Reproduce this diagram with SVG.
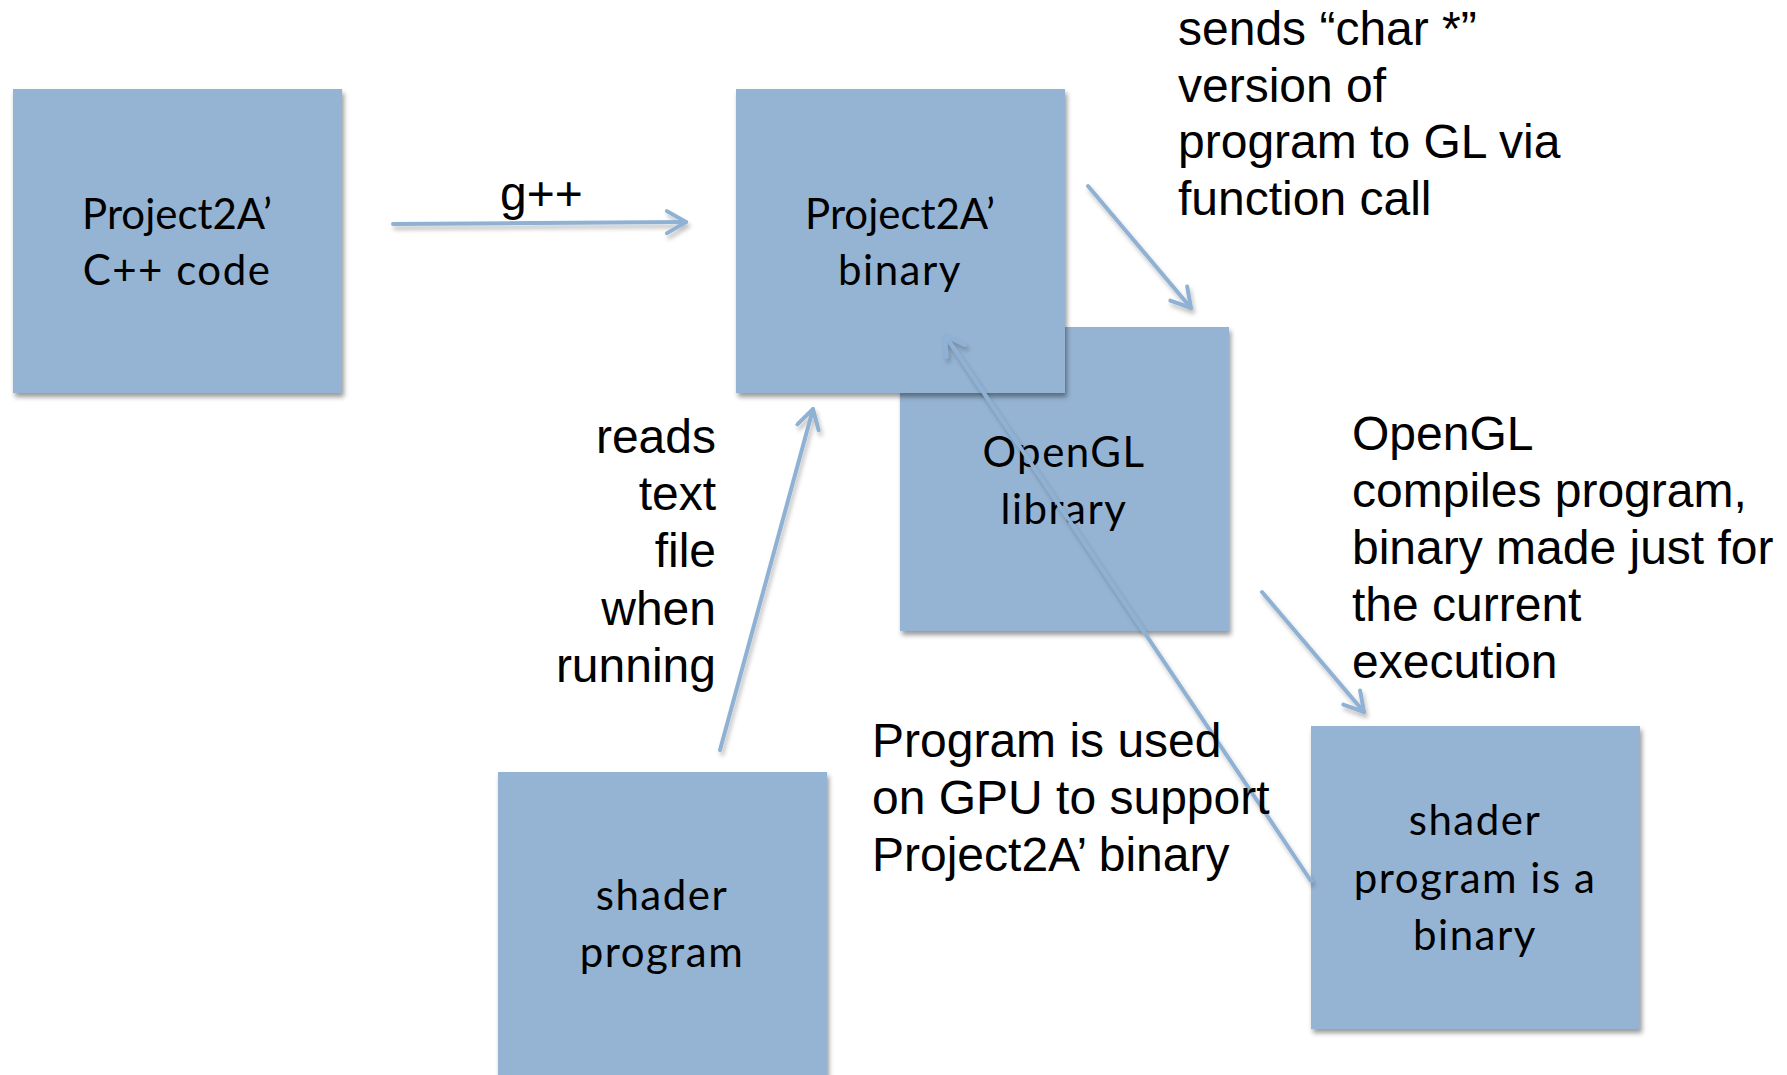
<svg xmlns="http://www.w3.org/2000/svg" width="1787" height="1075" viewBox="0 0 1787 1075">
<defs>
<filter id="sh" x="-10%" y="-10%" width="125%" height="125%">
<feDropShadow dx="2" dy="4" stdDeviation="2.5" flood-color="#000" flood-opacity="0.4"/>
</filter>
<filter id="lsh" filterUnits="userSpaceOnUse" x="0" y="0" width="1787" height="1075">
<feDropShadow dx="2" dy="4" stdDeviation="2" flood-color="#000" flood-opacity="0.25"/>
</filter>
<marker id="arr" viewBox="-22 -13 26 26" refX="0" refY="0" markerWidth="26" markerHeight="26" markerUnits="userSpaceOnUse" orient="auto">
<path d="M-19,-11 L0,0 L-19,11" fill="none" stroke="#8fb1d4" stroke-width="4" stroke-linecap="round" stroke-linejoin="round"/>
</marker>
<style>
.box{fill:#95b4d3;filter:url(#sh);}
.bt{font-family:Lato,"Noto Sans",sans-serif;font-size:42px;fill:#000;text-anchor:middle;letter-spacing:1.5px;}
.p2{letter-spacing:0;}
.lbl{font-family:"Liberation Sans",Arial,sans-serif;font-size:48px;fill:#000;}
.c{fill:none;stroke:#8fb1d4;stroke-width:4;stroke-linecap:round;marker-end:url(#arr);}
</style>
</defs>
<rect width="1787" height="1075" fill="#fff"/>
<g id="node-cpp">
<rect class="box" x="13" y="89" width="329" height="304"/>
<text class="bt p2" x="177" y="229">Project2A’</text>
<text class="bt" x="177" y="285" letter-spacing="3">C++ code</text>
</g>
<g id="node-opengl">
<rect class="box" x="900" y="327" width="329" height="304"/>
<text class="bt" x="1064" y="467">OpenGL</text>
<text class="bt" x="1064" y="524">library</text>
</g>
<g id="node-binary">
<rect class="box" x="736" y="89" width="329" height="304"/>
<text class="bt p2" x="900" y="229">Project2A’</text>
<text class="bt" x="900" y="285">binary</text>
</g>
<g id="node-shader">
<rect class="box" x="498" y="772" width="329" height="310"/>
<text class="bt" x="662" y="910">shader</text>
<text class="bt" x="662" y="967">program</text>
</g>
<g id="node-shader-binary">
<rect class="box" x="1311" y="726" width="329" height="303"/>
<text class="bt" x="1475" y="835">shader</text>
<text class="bt" x="1475" y="893">program is a</text>
<text class="bt" x="1475" y="950">binary</text>
</g>
<g id="connectors" filter="url(#lsh)">
<line class="c" x1="393" y1="224" x2="686" y2="222"/>
<line class="c" x1="1088" y1="186" x2="1191" y2="308"/>
<line class="c" x1="720" y1="750" x2="813" y2="409"/>
<line class="c" x1="1311" y1="881" x2="945" y2="335"/>
<line class="c" x1="1262" y1="592" x2="1364" y2="712"/>
</g>
<g id="labels">
<text class="lbl" x="500" y="210">g++</text>
<text class="lbl" x="1178" y="45">sends “char *”</text>
<text class="lbl" x="1178" y="102">version of</text>
<text class="lbl" x="1178" y="158">program to GL via</text>
<text class="lbl" x="1178" y="215">function call</text>
<g text-anchor="end">
<text class="lbl" x="716" y="453">reads</text>
<text class="lbl" x="716" y="510">text</text>
<text class="lbl" x="716" y="567">file</text>
<text class="lbl" x="716" y="625">when</text>
<text class="lbl" x="716" y="682">running</text>
</g>
<text class="lbl" x="1352" y="450">OpenGL</text>
<text class="lbl" x="1352" y="507">compiles program,</text>
<text class="lbl" x="1352" y="564">binary made just for</text>
<text class="lbl" x="1352" y="621">the current</text>
<text class="lbl" x="1352" y="678">execution</text>
<text class="lbl" x="872" y="757">Program is used</text>
<text class="lbl" x="872" y="814">on GPU to support</text>
<text class="lbl" x="872" y="871">Project2A’ binary</text>
</g>
</svg>
